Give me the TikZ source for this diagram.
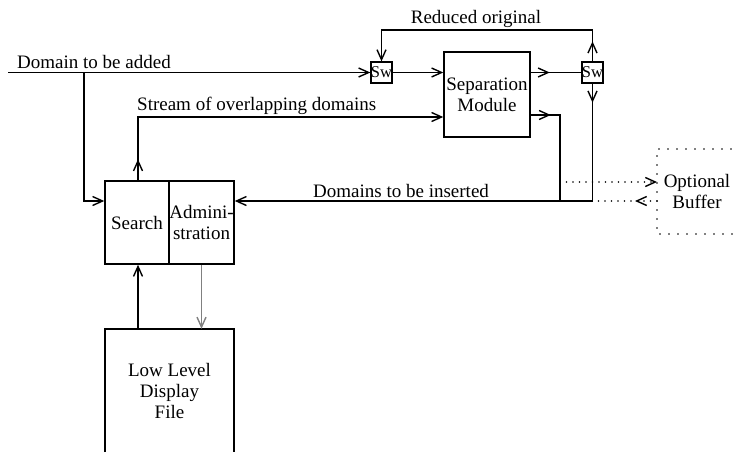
\documentclass[tikz,border=0pt]{standalone}
\usepackage{fontspec}
\setmainfont{Liberation Serif}
\usetikzlibrary{arrows.meta,decorations.markings}

\tikzset{
  barb/.tip={Straight Barb[length=10pt,width=9pt,line width=1.4pt]},
}

\begin{document}
\begin{tikzpicture}[x=1pt,y=-1pt,
  every node/.style={font=\fontsize{19}{21}\selectfont, inner sep=0pt},
  box/.style={draw, line width=1.5pt, align=center},
  swbox/.style={draw, line width=1.3pt, minimum width=21pt, minimum height=21pt,
                font=\fontsize{16.5}{17}\selectfont},
  wire/.style={line width=1.1pt},
  tip/.style={-barb},
  midtip/.style={postaction={decorate, decoration={markings,
                 mark=at position #1 with {\arrow{barb}}}}},
  dotline/.style={line width=1.7pt, line cap=round, dash pattern=on 0pt off 6.5pt},
  dotbox/.style={line width=1.9pt, line cap=round, dash pattern=on 0pt off 9pt},
  faint/.style={line width=0.7pt, gray},
]
\useasboundingbox (0,0) rectangle (735,452);

% blocks
\node[box, minimum width=86pt, minimum height=85pt] (sep) at (487,94.5) {Separation\\Module};
\node[swbox] (sw1) at (381.5,72.5) {Sw};
\node[swbox] (sw2) at (592.5,72.5) {Sw};
\node[box, minimum width=64pt, minimum height=83pt] (search) at (137,222.5) {Search};
\node[box, minimum width=65pt, minimum height=83pt] (admin) at (201.5,222.5) {Admini-\\stration};

% display file, open at the bottom
\node[minimum width=129pt, minimum height=123pt, align=center] (lldf) at (169.5,390.5)
  {Low Level\\Display\\File};
\draw[line width=1.5pt] (lldf.south west) -- (lldf.north west) -- (lldf.north east) -- (lldf.south east);

% optional buffer, dotted, running off the right edge
\node[align=center] (buf) at (697,191) {Optional\\Buffer};
\coordinate (bufnw) at (657,149);
\coordinate (bufsw) at (657,234);
\draw[dotbox] (740,149) -- (bufnw) -- (bufsw) -- (740,234);

% input domain
\coordinate (in) at (8,72.5);
\coordinate (j1) at (84,72.5);
\draw[wire,tip] (in) -- (sw1);
\draw[wire,tip] (j1) |- (search.west |- 0,201);
\node[anchor=base west] at (17,68) {Domain to be added};

% switch into the separation module
\draw[wire,tip] (sw1) -- (sw1 -| sep.west);
\draw[wire,midtip=19pt] (sw2 -| sep.east) -- (sw2);

% reduced original loop
\coordinate (r2) at (592.5,30);
\draw[wire,tip] (sw2.north) -- ++(0,-20);
\draw[wire] (sw2.north) -- (r2);
\draw[wire,tip] (r2) -| (sw1.north);
\node[anchor=base] at (476,24) {Reduced original};

% stream of overlapping domains
\coordinate (s) at (138,117);
\draw[wire,tip] (search.north -| s) -- ++(0,-21);
\draw[wire,tip] (search.north -| s) -- (s) -- (s -| sep.west);
\node[anchor=base west] at (137,110) {Stream of overlapping domains};

% domains to be inserted
\coordinate (k) at (560,115);
\draw[wire,midtip=20pt] (sep.east |- k) -- (k) -- (k |- 0,201);
\draw[wire,tip] (sw2.south) -- ++(0,19);
\draw[wire] (sw2.south) -- (sw2.south |- 0,201);
\draw[wire,tip] (sw2.south |- 0,201) -- (admin.east |- 0,201);
\node[anchor=base west] at (313,197) {Domains to be inserted};

% exchange with the buffer
\draw[dotline,tip] (k |- 0,182) -- (bufnw |- 0,182);
\draw[dotline,midtip=22pt] (bufnw |- 0,201) -- (sw2.south |- 0,201);

% display file link
\draw[wire,tip] (lldf.north -| s) -- (search.south -| s);
\draw[faint,tip] (admin.south) -- (admin.south |- lldf.north);
\end{tikzpicture}
\end{document}
